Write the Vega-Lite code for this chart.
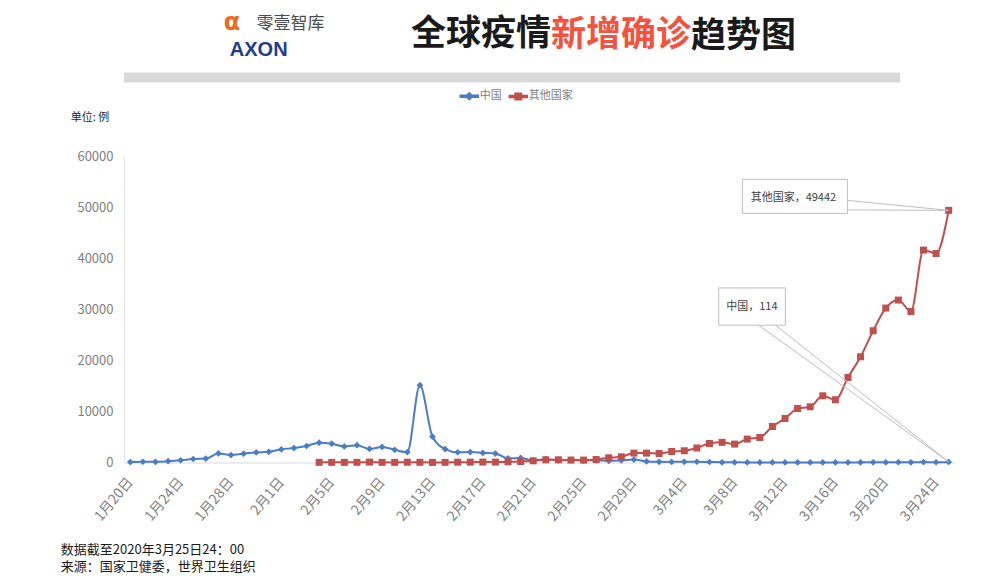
{
  "$schema": "https://vega.github.io/schema/vega-lite/v6.json",
  "background": "white",
  "padding": {"left": 60, "top": -4.5, "right": 10, "bottom": 4},
  "bounds": "flush",
  "spacing": 0,
  "config": {"view": {"stroke": null}, "font": "Noto Sans CJK SC"},
  "datasets": {
    "blank": [{}],
    "series": [
      {"date": "2020-01-20", "series": "中国", "value": 77},
      {"date": "2020-01-21", "series": "中国", "value": 149},
      {"date": "2020-01-22", "series": "中国", "value": 131},
      {"date": "2020-01-23", "series": "中国", "value": 259},
      {"date": "2020-01-24", "series": "中国", "value": 444},
      {"date": "2020-01-25", "series": "中国", "value": 688},
      {"date": "2020-01-26", "series": "中国", "value": 769},
      {"date": "2020-01-27", "series": "中国", "value": 1771},
      {"date": "2020-01-28", "series": "中国", "value": 1459},
      {"date": "2020-01-29", "series": "中国", "value": 1737},
      {"date": "2020-01-30", "series": "中国", "value": 1982},
      {"date": "2020-01-31", "series": "中国", "value": 2102},
      {"date": "2020-02-01", "series": "中国", "value": 2590},
      {"date": "2020-02-02", "series": "中国", "value": 2829},
      {"date": "2020-02-03", "series": "中国", "value": 3235},
      {"date": "2020-02-04", "series": "中国", "value": 3887},
      {"date": "2020-02-05", "series": "中国", "value": 3694},
      {"date": "2020-02-06", "series": "中国", "value": 3143},
      {"date": "2020-02-07", "series": "中国", "value": 3399},
      {"date": "2020-02-08", "series": "中国", "value": 2656},
      {"date": "2020-02-09", "series": "中国", "value": 3062},
      {"date": "2020-02-10", "series": "中国", "value": 2478},
      {"date": "2020-02-11", "series": "中国", "value": 2015},
      {"date": "2020-02-12", "series": "中国", "value": 15152},
      {"date": "2020-02-13", "series": "中国", "value": 5090},
      {"date": "2020-02-14", "series": "中国", "value": 2641},
      {"date": "2020-02-15", "series": "中国", "value": 2009},
      {"date": "2020-02-16", "series": "中国", "value": 2048},
      {"date": "2020-02-17", "series": "中国", "value": 1886},
      {"date": "2020-02-18", "series": "中国", "value": 1749},
      {"date": "2020-02-19", "series": "中国", "value": 820},
      {"date": "2020-02-20", "series": "中国", "value": 889},
      {"date": "2020-02-21", "series": "中国", "value": 397},
      {"date": "2020-02-22", "series": "中国", "value": 648},
      {"date": "2020-02-23", "series": "中国", "value": 409},
      {"date": "2020-02-24", "series": "中国", "value": 508},
      {"date": "2020-02-25", "series": "中国", "value": 406},
      {"date": "2020-02-26", "series": "中国", "value": 433},
      {"date": "2020-02-27", "series": "中国", "value": 327},
      {"date": "2020-02-28", "series": "中国", "value": 427},
      {"date": "2020-02-29", "series": "中国", "value": 573},
      {"date": "2020-03-01", "series": "中国", "value": 202},
      {"date": "2020-03-02", "series": "中国", "value": 125},
      {"date": "2020-03-03", "series": "中国", "value": 119},
      {"date": "2020-03-04", "series": "中国", "value": 139},
      {"date": "2020-03-05", "series": "中国", "value": 143},
      {"date": "2020-03-06", "series": "中国", "value": 99},
      {"date": "2020-03-07", "series": "中国", "value": 44},
      {"date": "2020-03-08", "series": "中国", "value": 40},
      {"date": "2020-03-09", "series": "中国", "value": 19},
      {"date": "2020-03-10", "series": "中国", "value": 24},
      {"date": "2020-03-11", "series": "中国", "value": 15},
      {"date": "2020-03-12", "series": "中国", "value": 8},
      {"date": "2020-03-13", "series": "中国", "value": 11},
      {"date": "2020-03-14", "series": "中国", "value": 20},
      {"date": "2020-03-15", "series": "中国", "value": 16},
      {"date": "2020-03-16", "series": "中国", "value": 21},
      {"date": "2020-03-17", "series": "中国", "value": 13},
      {"date": "2020-03-18", "series": "中国", "value": 34},
      {"date": "2020-03-19", "series": "中国", "value": 39},
      {"date": "2020-03-20", "series": "中国", "value": 41},
      {"date": "2020-03-21", "series": "中国", "value": 46},
      {"date": "2020-03-22", "series": "中国", "value": 39},
      {"date": "2020-03-23", "series": "中国", "value": 78},
      {"date": "2020-03-24", "series": "中国", "value": 47},
      {"date": "2020-03-25", "series": "中国", "value": 114},
      {"date": "2020-02-04", "series": "其他国家", "value": 30},
      {"date": "2020-02-05", "series": "其他国家", "value": 27},
      {"date": "2020-02-06", "series": "其他国家", "value": 26},
      {"date": "2020-02-07", "series": "其他国家", "value": 32},
      {"date": "2020-02-08", "series": "其他国家", "value": 79},
      {"date": "2020-02-09", "series": "其他国家", "value": 28},
      {"date": "2020-02-10", "series": "其他国家", "value": 20},
      {"date": "2020-02-11", "series": "其他国家", "value": 52},
      {"date": "2020-02-12", "series": "其他国家", "value": 36},
      {"date": "2020-02-13", "series": "其他国家", "value": 13},
      {"date": "2020-02-14", "series": "其他国家", "value": 23},
      {"date": "2020-02-15", "series": "其他国家", "value": 61},
      {"date": "2020-02-16", "series": "其他国家", "value": 71},
      {"date": "2020-02-17", "series": "其他国家", "value": 85},
      {"date": "2020-02-18", "series": "其他国家", "value": 79},
      {"date": "2020-02-19", "series": "其他国家", "value": 140},
      {"date": "2020-02-20", "series": "其他国家", "value": 200},
      {"date": "2020-02-21", "series": "其他国家", "value": 330},
      {"date": "2020-02-22", "series": "其他国家", "value": 530},
      {"date": "2020-02-23", "series": "其他国家", "value": 530},
      {"date": "2020-02-24", "series": "其他国家", "value": 470},
      {"date": "2020-02-25", "series": "其他国家", "value": 470},
      {"date": "2020-02-26", "series": "其他国家", "value": 590},
      {"date": "2020-02-27", "series": "其他国家", "value": 920},
      {"date": "2020-02-28", "series": "其他国家", "value": 1120},
      {"date": "2020-02-29", "series": "其他国家", "value": 1840},
      {"date": "2020-03-01", "series": "其他国家", "value": 1840},
      {"date": "2020-03-02", "series": "其他国家", "value": 1770},
      {"date": "2020-03-03", "series": "其他国家", "value": 2160},
      {"date": "2020-03-04", "series": "其他国家", "value": 2300},
      {"date": "2020-03-05", "series": "其他国家", "value": 2850},
      {"date": "2020-03-06", "series": "其他国家", "value": 3730},
      {"date": "2020-03-07", "series": "其他国家", "value": 3950},
      {"date": "2020-03-08", "series": "其他国家", "value": 3610},
      {"date": "2020-03-09", "series": "其他国家", "value": 4590},
      {"date": "2020-03-10", "series": "其他国家", "value": 4900},
      {"date": "2020-03-11", "series": "其他国家", "value": 7060},
      {"date": "2020-03-12", "series": "其他国家", "value": 8630},
      {"date": "2020-03-13", "series": "其他国家", "value": 10590},
      {"date": "2020-03-14", "series": "其他国家", "value": 10920},
      {"date": "2020-03-15", "series": "其他国家", "value": 13080},
      {"date": "2020-03-16", "series": "其他国家", "value": 12300},
      {"date": "2020-03-17", "series": "其他国家", "value": 16670},
      {"date": "2020-03-18", "series": "其他国家", "value": 20730},
      {"date": "2020-03-19", "series": "其他国家", "value": 25830},
      {"date": "2020-03-20", "series": "其他国家", "value": 30280},
      {"date": "2020-03-21", "series": "其他国家", "value": 31850},
      {"date": "2020-03-22", "series": "其他国家", "value": 29610},
      {"date": "2020-03-23", "series": "其他国家", "value": 41650},
      {"date": "2020-03-24", "series": "其他国家", "value": 40985},
      {"date": "2020-03-25", "series": "其他国家", "value": 49442}
    ]
  },
  "vconcat": [
    {
      "data": {"name": "blank"}, "width": 1, "height": 0.001,
      "mark": {"type": "point", "size": 0, "opacity": 0},
      "title": {"text": "α", "anchor": "start", "frame": "group", "orient": "top", "dx": 99.8, "offset": -39, "fontSize": 24, "font": "DejaVu Sans", "fontWeight": "bold", "color": "#ee6a1f", "baseline": "top"}
    },
    {
      "data": {"name": "blank"}, "width": 1, "height": 0.001,
      "mark": {"type": "point", "size": 0, "opacity": 0},
      "title": {"text": "零壹智库", "anchor": "start", "frame": "group", "orient": "top", "dx": 132.5, "offset": -36.4, "fontSize": 17, "font": "Noto Sans CJK SC", "fontWeight": "normal", "color": "#4d4d4d", "baseline": "top"}
    },
    {
      "data": {"name": "blank"}, "width": 1, "height": 0.001,
      "mark": {"type": "point", "size": 0, "opacity": 0},
      "title": {"text": "AXON", "anchor": "start", "frame": "group", "orient": "top", "dx": 105.8, "offset": -62.9, "fontSize": 20, "font": "Liberation Sans", "fontWeight": "bold", "color": "#1f3d8a", "baseline": "top"}
    },
    {
      "data": {"name": "blank"}, "width": 1, "height": 0.001,
      "mark": {"type": "point", "size": 0, "opacity": 0},
      "title": {"text": "全球疫情", "anchor": "start", "frame": "group", "orient": "top", "dx": 287, "offset": -53, "fontSize": 35, "font": "Noto Sans CJK SC", "fontWeight": "bold", "color": "#1a1a1a", "baseline": "top"}
    },
    {
      "data": {"name": "blank"}, "width": 1, "height": 0.001,
      "mark": {"type": "point", "size": 0, "opacity": 0},
      "title": {"text": "新增确诊", "anchor": "start", "frame": "group", "orient": "top", "dx": 427, "offset": -53, "fontSize": 35, "font": "Noto Sans CJK SC", "fontWeight": "bold", "color": "#f4513e", "baseline": "top"}
    },
    {
      "data": {"name": "blank"}, "width": 1, "height": 71.995,
      "mark": {"type": "point", "size": 0, "opacity": 0},
      "title": {"text": "趋势图", "anchor": "start", "frame": "group", "orient": "top", "dx": 567, "offset": -53, "fontSize": 35, "font": "Noto Sans CJK SC", "fontWeight": "bold", "color": "#1a1a1a", "baseline": "top"}
    },
    {
      "data": {"name": "blank"}, "width": 776.3, "height": 10,
      "view": {"fill": "#d9d9d9", "stroke": null},
      "mark": {"type": "point", "size": 0, "opacity": 0}
    },
    {
      "data": {"name": "blank"}, "width": 1, "height": 73.5,
      "mark": {"type": "point", "size": 0, "opacity": 0}
    },
    {
      "data": {"name": "series"},
      "width": 831,
      "height": 306,
      "encoding": {
        "x": {
          "field": "date", "type": "temporal",
          "scale": {"type": "utc", "domain": [{"year": 2020, "month": 1, "date": 19, "hours": 12, "utc": true}, {"year": 2020, "month": 3, "date": 25, "hours": 12, "utc": true}]},
          "axis": {
            "values": [
              {"year": 2020, "month": 1, "date": 20, "utc": true},
              {"year": 2020, "month": 1, "date": 24, "utc": true},
              {"year": 2020, "month": 1, "date": 28, "utc": true},
              {"year": 2020, "month": 2, "date": 1, "utc": true},
              {"year": 2020, "month": 2, "date": 5, "utc": true},
              {"year": 2020, "month": 2, "date": 9, "utc": true},
              {"year": 2020, "month": 2, "date": 13, "utc": true},
              {"year": 2020, "month": 2, "date": 17, "utc": true},
              {"year": 2020, "month": 2, "date": 21, "utc": true},
              {"year": 2020, "month": 2, "date": 25, "utc": true},
              {"year": 2020, "month": 2, "date": 29, "utc": true},
              {"year": 2020, "month": 3, "date": 4, "utc": true},
              {"year": 2020, "month": 3, "date": 8, "utc": true},
              {"year": 2020, "month": 3, "date": 12, "utc": true},
              {"year": 2020, "month": 3, "date": 16, "utc": true},
              {"year": 2020, "month": 3, "date": 20, "utc": true},
              {"year": 2020, "month": 3, "date": 24, "utc": true}
            ],
            "labelExpr": "utcFormat(datum.value, '%-m') + '月' + utcFormat(datum.value, '%-d') + '日'",
            "labelAngle": -50, "labelAlign": "right", "labelBaseline": "middle",
            "labelPadding": 17, "labelFontSize": 14, "labelColor": "#7f7f7f",
            "labelOverlap": false, "labelFlush": false,
            "ticks": false, "grid": false, "domainColor": "#d9d9d9",
            "title": ["数据截至2020年3月25日24：00", "来源：国家卫健委，世界卫生组织"],
            "titleX": -63.7, "titleY": 90.5, "titleAlign": "left", "titleBaseline": "alphabetic",
            "titleFontSize": 13, "titleFontWeight": "normal", "titleColor": "#1a1a1a", "titleLineHeight": 17.5
          }
        },
        "y": {
          "field": "value", "type": "quantitative",
          "scale": {"domain": [0, 60000], "nice": false},
          "axis": {
            "values": [0, 10000, 20000, 30000, 40000, 50000, 60000], "format": "d",
            "title": "单位: 例", "titleAngle": 0, "titleX": -53.7, "titleY": -39.5,
            "titleAlign": "left", "titleBaseline": "middle", "titleFontSize": 11,
            "titleFontWeight": "normal", "titleColor": "#262626",
            "ticks": false, "labelPadding": 11, "labelFontSize": 13, "labelColor": "#7f7f7f",
            "grid": false, "domainColor": "#e6e6e6"
          }
        }
      },
      "layer": [
        {
          "mark": {"type": "line", "interpolate": "monotone", "strokeWidth": 2},
          "encoding": {
            "color": {
              "field": "series", "type": "nominal",
              "scale": {"domain": ["中国", "其他国家"], "range": ["#4a7dc6", "#c0504d"]},
              "legend": {
                "orient": "none", "legendX": 339.3, "legendY": 94.5, "direction": "horizontal",
                "title": null, "labelFontSize": 11, "labelColor": "#7f7f7f", "labelOffset": 4.5,
                "columnPadding": 4, "symbolSize": 100, "padding": 0,
                "encode": {
                  "symbols": {
                    "update": {
                      "shape": {"signal": "datum.value === '中国' ? 'M-1.8,-0.2H1.8V0.2H-1.8ZM0,-0.7L0.7,0L0,0.7L-0.7,0Z' : 'M-1.8,-0.2H1.8V0.2H-1.8ZM-0.65,-0.65H0.65V0.65H-0.65Z'"},
                      "fill": {"scale": "color", "field": "value"},
                      "opacity": {"value": 1},
                      "fillOpacity": {"value": 1}
                    }
                  }
                }
              }
            }
          }
        },
        {
          "transform": [{"filter": {"field": "series", "equal": "中国"}}],
          "mark": {"type": "point", "filled": true, "opacity": 1, "shape": "diamond", "size": 45},
          "encoding": {"color": {"field": "series", "type": "nominal"}}
        },
        {
          "transform": [{"filter": {"field": "series", "equal": "其他国家"}}],
          "mark": {"type": "point", "filled": true, "opacity": 1, "shape": "square", "size": 49},
          "encoding": {"color": {"field": "series", "type": "nominal"}}
        },
        {
          "transform": [{"filter": {"field": "value", "equal": 114}}],
          "mark": {"type": "point", "shape": "M-2.30,-1.74H-1.633V-1.367H-2.30ZM-1.90,-1.367L0,0M-1.733,-1.367L0,0", "size": 40000, "filled": true, "fill": "white", "stroke": "#bfbfbf", "strokeWidth": 1, "opacity": 1}
        },
        {
          "transform": [{"filter": {"field": "value", "equal": 49442}}],
          "mark": {"type": "point", "shape": "M-2.063,-0.31H-1.013V0.03H-2.063ZM-1.013,-0.1L0,0M-1.013,-0.005L0,0", "size": 40000, "filled": true, "fill": "white", "stroke": "#bfbfbf", "strokeWidth": 1, "opacity": 1}
        },
        {
          "transform": [{"filter": {"field": "value", "equal": 49442}}],
          "mark": {"type": "text", "dx": -155.3, "dy": -12.5, "fontSize": 11, "color": "#404040", "align": "center", "baseline": "middle"},
          "encoding": {"text": {"value": "其他国家，49442"}}
        },
        {
          "transform": [{"filter": {"field": "value", "equal": 114}}],
          "mark": {"type": "text", "dx": -196.8, "dy": -155.2, "fontSize": 11, "color": "#404040", "align": "center", "baseline": "middle"},
          "encoding": {"text": {"value": "中国，114"}}
        }
      ]
    }
  ]
}
